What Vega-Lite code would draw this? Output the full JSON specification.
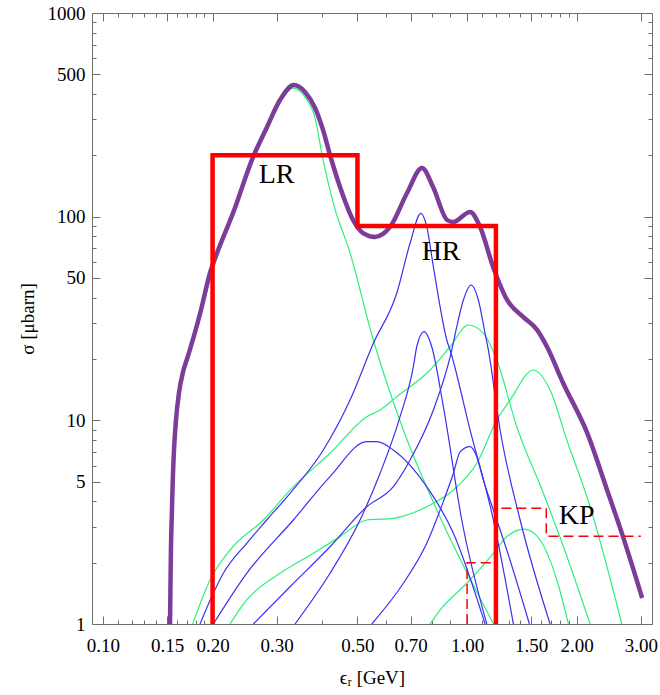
{
  "$schema": "https://vega.github.io/schema/vega-lite/v6.json",
  "width": 560,
  "height": 611,
  "autosize": {"type": "none"},
  "padding": {"left": 92, "top": 13, "right": 8, "bottom": 71},
  "background": "white",
  "config": {
    "view": {"stroke": null},
    "axis": {
      "grid": false,
      "domainColor": "#6e6e6e",
      "tickColor": "#6e6e6e",
      "labelColor": "#000000",
      "titleColor": "#000000",
      "labelFont": "Liberation Serif",
      "titleFont": "Liberation Serif",
      "labelFontSize": 19,
      "titleFontSize": 19,
      "titleFontWeight": "normal",
      "labelFlush": false,
      "labelOverlap": false,
      "labelBound": false,
      "domainWidth": 1,
      "tickWidth": 1
    }
  },
  "datasets": {
    "green": [
      {"s": "G1", "x": 0.1528, "y": 1.0}, {"s": "G1", "x": 0.1537, "y": 2.2}, {"s": "G1", "x": 0.1554, "y": 4.7}, {"s": "G1", "x": 0.1567, "y": 6.9}, {"s": "G1", "x": 0.1587, "y": 9.7}, {"s": "G1", "x": 0.1617, "y": 13.1}, {"s": "G1", "x": 0.1659, "y": 16.6}, {"s": "G1", "x": 0.1712, "y": 19.9}, {"s": "G1", "x": 0.1778, "y": 25}, {"s": "G1", "x": 0.1847, "y": 32}, {"s": "G1", "x": 0.1968, "y": 50.5}, {"s": "G1", "x": 0.2057, "y": 63.5}, {"s": "G1", "x": 0.2276, "y": 100}, {"s": "G1", "x": 0.2583, "y": 189}, {"s": "G1", "x": 0.2822, "y": 266}, {"s": "G1", "x": 0.3063, "y": 362}, {"s": "G1", "x": 0.3328, "y": 428}, {"s": "G1", "x": 0.3588, "y": 386.9}, {"s": "G1", "x": 0.3823, "y": 305}, {"s": "G1", "x": 0.4022, "y": 189.8}, {"s": "G1", "x": 0.4292, "y": 116.3}, {"s": "G1", "x": 0.4771, "y": 66.3}, {"s": "G1", "x": 0.5527, "y": 24.8}, {"s": "G1", "x": 0.6683, "y": 8.97}, {"s": "G1", "x": 0.8257, "y": 3.63}, {"s": "G1", "x": 1.183, "y": 1.0},
      {"s": "G2", "x": 0.1764, "y": 1.0}, {"s": "G2", "x": 0.1968, "y": 1.644}, {"s": "G2", "x": 0.2233, "y": 2.308}, {"s": "G2", "x": 0.2757, "y": 3.241}, {"s": "G2", "x": 0.3333, "y": 4.722}, {"s": "G2", "x": 0.4203, "y": 6.889}, {"s": "G2", "x": 0.5302, "y": 10.42}, {"s": "G2", "x": 0.5768, "y": 11.24}, {"s": "G2", "x": 0.641, "y": 13.06}, {"s": "G2", "x": 0.7914, "y": 17.67}, {"s": "G2", "x": 0.8981, "y": 22.98}, {"s": "G2", "x": 1.0083, "y": 29.38}, {"s": "G2", "x": 1.1087, "y": 26.75}, {"s": "G2", "x": 1.2067, "y": 19.79}, {"s": "G2", "x": 1.3695, "y": 9.306}, {"s": "G2", "x": 1.6205, "y": 4.382}, {"s": "G2", "x": 1.8392, "y": 2.396}, {"s": "G2", "x": 2.1774, "y": 1.0},
      {"s": "G3", "x": 0.2233, "y": 1.0}, {"s": "G3", "x": 0.2482, "y": 1.312}, {"s": "G3", "x": 0.3063, "y": 1.774}, {"s": "G3", "x": 0.3782, "y": 2.224}, {"s": "G3", "x": 0.4478, "y": 2.684}, {"s": "G3", "x": 0.5302, "y": 3.241}, {"s": "G3", "x": 0.6273, "y": 3.304}, {"s": "G3", "x": 0.7749, "y": 3.766}, {"s": "G3", "x": 0.9171, "y": 4.549}, {"s": "G3", "x": 1.0632, "y": 6.152}, {"s": "G3", "x": 1.2067, "y": 10.04}, {"s": "G3", "x": 1.3126, "y": 12.58}, {"s": "G3", "x": 1.5208, "y": 17.67}, {"s": "G3", "x": 1.6904, "y": 14.09}, {"s": "G3", "x": 1.8789, "y": 8.008}, {"s": "G3", "x": 2.1774, "y": 3.766}, {"s": "G3", "x": 2.6607, "y": 1.0},
      {"s": "G4", "x": 0.7914, "y": 1.0}, {"s": "G4", "x": 0.843, "y": 1.171}, {"s": "G4", "x": 0.998, "y": 1.585}, {"s": "G4", "x": 1.181, "y": 2.224}, {"s": "G4", "x": 1.2855, "y": 2.684}, {"s": "G4", "x": 1.4373, "y": 2.92}, {"s": "G4", "x": 1.586, "y": 2.585}, {"s": "G4", "x": 1.764, "y": 1.644}, {"s": "G4", "x": 1.898, "y": 1.0}
    ],
    "blue": [
      {"s": "B1", "x": 0.1847, "y": 1.0}, {"s": "B1", "x": 0.1989, "y": 1.361}, {"s": "B1", "x": 0.2141, "y": 1.774}, {"s": "B1", "x": 0.2482, "y": 2.49}, {"s": "B1", "x": 0.2816, "y": 3.241}, {"s": "B1", "x": 0.3264, "y": 4.382}, {"s": "B1", "x": 0.4029, "y": 7.152}, {"s": "B1", "x": 0.4771, "y": 12.58}, {"s": "B1", "x": 0.5529, "y": 23.89}, {"s": "B1", "x": 0.641, "y": 42.05}, {"s": "B1", "x": 0.6973, "y": 74}, {"s": "B1", "x": 0.7462, "y": 103.9}, {"s": "B1", "x": 0.7749, "y": 89.3}, {"s": "B1", "x": 0.808, "y": 56.8}, {"s": "B1", "x": 0.843, "y": 36.14}, {"s": "B1", "x": 0.8794, "y": 24.8}, {"s": "B1", "x": 0.8981, "y": 22.14}, {"s": "B1", "x": 1.019, "y": 8.97}, {"s": "B1", "x": 1.181, "y": 3.241}, {"s": "B1", "x": 1.3404, "y": 1.0},
      {"s": "B2", "x": 0.2588, "y": 1.0}, {"s": "B2", "x": 0.3264, "y": 1.524}, {"s": "B2", "x": 0.4203, "y": 2.396}, {"s": "B2", "x": 0.5302, "y": 3.766}, {"s": "B2", "x": 0.6273, "y": 4.722}, {"s": "B2", "x": 0.6973, "y": 6.386}, {"s": "B2", "x": 0.808, "y": 11.24}, {"s": "B2", "x": 0.9078, "y": 22.14}, {"s": "B2", "x": 0.9369, "y": 28.83}, {"s": "B2", "x": 0.9768, "y": 38.98}, {"s": "B2", "x": 1.0256, "y": 46.18}, {"s": "B2", "x": 1.074, "y": 38.98}, {"s": "B2", "x": 1.1205, "y": 26.75}, {"s": "B2", "x": 1.1442, "y": 22.14}, {"s": "B2", "x": 1.2323, "y": 8.966}, {"s": "B2", "x": 1.3987, "y": 3.241}, {"s": "B2", "x": 1.6904, "y": 1.0},
      {"s": "B3", "x": 0.3369, "y": 1.0}, {"s": "B3", "x": 0.4203, "y": 1.774}, {"s": "B3", "x": 0.5082, "y": 3.241}, {"s": "B3", "x": 0.5768, "y": 5.494}, {"s": "B3", "x": 0.6546, "y": 10.42}, {"s": "B3", "x": 0.712, "y": 18.34}, {"s": "B3", "x": 0.7274, "y": 22.98}, {"s": "B3", "x": 0.7619, "y": 27.24}, {"s": "B3", "x": 0.7998, "y": 22.98}, {"s": "B3", "x": 0.8608, "y": 11.67}, {"s": "B3", "x": 0.967, "y": 3.241}, {"s": "B3", "x": 1.1327, "y": 1.0},
      {"s": "B4", "x": 0.5473, "y": 1.0}, {"s": "B4", "x": 0.6683, "y": 1.585}, {"s": "B4", "x": 0.7749, "y": 2.49}, {"s": "B4", "x": 0.8608, "y": 4.0}, {"s": "B4", "x": 0.9171, "y": 5.494}, {"s": "B4", "x": 0.9567, "y": 7.0}, {"s": "B4", "x": 1.019, "y": 7.424}, {"s": "B4", "x": 1.0632, "y": 6.63}, {"s": "B4", "x": 1.1087, "y": 5.09}, {"s": "B4", "x": 1.181, "y": 3.628}, {"s": "B4", "x": 1.2855, "y": 2.308}, {"s": "B4", "x": 1.4832, "y": 1.0},
      {"s": "B5", "x": 0.2009, "y": 1.0}, {"s": "B5", "x": 0.2482, "y": 1.774}, {"s": "B5", "x": 0.3333, "y": 3.241}, {"s": "B5", "x": 0.4203, "y": 5.287}, {"s": "B5", "x": 0.5302, "y": 7.856}, {"s": "B5", "x": 0.5649, "y": 7.856}, {"s": "B5", "x": 0.6273, "y": 7.152}, {"s": "B5", "x": 0.7749, "y": 4.722}, {"s": "B5", "x": 0.9171, "y": 2.788}, {"s": "B5", "x": 1.1205, "y": 1.0}
    ],
    "total": [
      {"x": 0.1528, "y": 1.0}, {"x": 0.1532, "y": 1.469}, {"x": 0.1537, "y": 2.31}, {"x": 0.1547, "y": 3.63}, {"x": 0.1554, "y": 4.92}, {"x": 0.1567, "y": 7.15}, {"x": 0.1587, "y": 10.04}, {"x": 0.1617, "y": 13.62}, {"x": 0.1659, "y": 17.28}, {"x": 0.1712, "y": 20.7}, {"x": 0.1778, "y": 25.95}, {"x": 0.1847, "y": 33.3}, {"x": 0.1968, "y": 52.9}, {"x": 0.2057, "y": 66.3}, {"x": 0.2276, "y": 104.2}, {"x": 0.2583, "y": 196}, {"x": 0.2822, "y": 275.6}, {"x": 0.3063, "y": 374}, {"x": 0.3347, "y": 443}, {"x": 0.3588, "y": 409.5}, {"x": 0.3823, "y": 341.7}, {"x": 0.4022, "y": 266.4}, {"x": 0.4203, "y": 200.8}, {"x": 0.4478, "y": 139.8}, {"x": 0.4861, "y": 96.3}, {"x": 0.5179, "y": 83.1}, {"x": 0.5589, "y": 79.5}, {"x": 0.6144, "y": 89.0}, {"x": 0.6841, "y": 130.7}, {"x": 0.7521, "y": 173.3}, {"x": 0.8064, "y": 139.8}, {"x": 0.8813, "y": 96.3}, {"x": 0.9153, "y": 94.1}, {"x": 1.019, "y": 105.4}, {"x": 1.086, "y": 89.0}, {"x": 1.179, "y": 56.6}, {"x": 1.288, "y": 39.0}, {"x": 1.425, "y": 32.2}, {"x": 1.557, "y": 27.8}, {"x": 1.659, "y": 22.9}, {"x": 1.835, "y": 15.25}, {"x": 2.137, "y": 8.67}, {"x": 2.424, "y": 4.55}, {"x": 2.683, "y": 2.67}, {"x": 3.026, "y": 1.342}
    ],
    "box": [
      {"o": 0, "x": 0.2, "y": 1}, {"o": 1, "x": 0.2, "y": 200}, {"o": 2, "x": 0.5, "y": 200}, {"o": 3, "x": 0.5, "y": 90}, {"o": 4, "x": 1.2, "y": 90}, {"o": 5, "x": 1.2, "y": 1}
    ],
    "kp": [
      {"o": 0, "x": 1.0, "y": 1}, {"o": 1, "x": 1.0, "y": 2.0}, {"o": 2, "x": 1.2, "y": 2.0}, {"o": 3, "x": 1.2, "y": 3.7}, {"o": 4, "x": 1.65, "y": 3.7}, {"o": 5, "x": 1.65, "y": 2.7}, {"o": 6, "x": 3.0, "y": 2.7}
    ],
    "labels": [
      {"x": 0.2997, "y": 146, "t": "LR"}, {"x": 0.8484, "y": 61.2, "t": "HR"}, {"x": 2.0, "y": 3.09, "t": "KP"}
    ]
  },
  "resolve": {"axis": {"x": "independent", "y": "independent"}},
  "layer": [
    {
      "data": {"name": "green"},
      "mark": {"type": "line", "color": "#2cf07e", "strokeWidth": 1.2, "interpolate": "monotone", "clip": true},
      "encoding": {
        "x": {"field": "x", "type": "quantitative", "scale": {"type": "log", "domain": [0.0933, 3.22], "nice": false},
          "axis": {"orient": "bottom", "values": [0.1, 0.15, 0.2, 0.3, 0.5, 0.7, 1, 1.5, 2, 3], "format": ".2f", "tickSize": -8, "labelPadding": 20, "title": "ϵᵣ [GeV]", "titlePadding": 13}},
        "y": {"field": "y", "type": "quantitative", "scale": {"type": "log", "domain": [1, 1000], "nice": false},
          "axis": {"orient": "left", "values": [1, 5, 10, 50, 100, 500, 1000], "format": "d", "tickSize": -8, "labelPadding": 15, "title": "σ [μbarn]", "titlePadding": 10}},
        "detail": {"field": "s"}
      }
    },
    {
      "data": {"name": "blue"},
      "mark": {"type": "line", "color": "#3b30f0", "strokeWidth": 1.2, "interpolate": "monotone", "clip": true},
      "encoding": {
        "x": {"field": "x", "type": "quantitative", "scale": {"type": "log", "domain": [0.0933, 3.22], "nice": false},
          "axis": {"orient": "bottom", "values": [0.11, 0.12, 0.13, 0.14, 0.16, 0.17, 0.18, 0.19, 0.4, 0.6, 0.8, 0.9, 1.1, 1.2, 1.3, 1.4, 1.6, 1.7, 1.8, 1.9], "labels": false, "domain": false, "tickSize": -4, "title": null}},
        "y": {"field": "y", "type": "quantitative", "scale": {"type": "log", "domain": [1, 1000], "nice": false},
          "axis": {"orient": "left", "values": [2, 3, 4, 6, 7, 8, 9, 20, 30, 40, 60, 70, 80, 90, 200, 300, 400, 600, 700, 800, 900], "labels": false, "domain": false, "tickSize": -4, "title": null}},
        "detail": {"field": "s"}
      }
    },
    {
      "data": {"name": "total"},
      "mark": {"type": "line", "color": "#7d3c98", "strokeWidth": 4.5, "interpolate": "monotone", "clip": true},
      "encoding": {
        "x": {"field": "x", "type": "quantitative", "scale": {"type": "log", "domain": [0.0933, 3.22], "nice": false},
          "axis": {"orient": "top", "values": [0.1, 0.15, 0.2, 0.3, 0.5, 0.7, 1, 1.5, 2, 3], "labels": false, "tickSize": -8, "title": null}},
        "y": {"field": "y", "type": "quantitative", "scale": {"type": "log", "domain": [1, 1000], "nice": false},
          "axis": {"orient": "right", "values": [1, 5, 10, 50, 100, 500, 1000], "labels": false, "tickSize": -8, "title": null}}
      }
    },
    {
      "data": {"name": "box"},
      "mark": {"type": "line", "color": "#ff0000", "strokeWidth": 4.5, "strokeJoin": "miter", "clip": true},
      "encoding": {
        "x": {"field": "x", "type": "quantitative", "scale": {"type": "log", "domain": [0.0933, 3.22], "nice": false},
          "axis": {"orient": "top", "values": [0.11, 0.12, 0.13, 0.14, 0.16, 0.17, 0.18, 0.19, 0.4, 0.6, 0.8, 0.9, 1.1, 1.2, 1.3, 1.4, 1.6, 1.7, 1.8, 1.9], "labels": false, "domain": false, "tickSize": -4, "title": null}},
        "y": {"field": "y", "type": "quantitative", "scale": {"type": "log", "domain": [1, 1000], "nice": false},
          "axis": {"orient": "right", "values": [2, 3, 4, 6, 7, 8, 9, 20, 30, 40, 60, 70, 80, 90, 200, 300, 400, 600, 700, 800, 900], "labels": false, "domain": false, "tickSize": -4, "title": null}},
        "order": {"field": "o", "type": "quantitative"}
      }
    },
    {
      "data": {"name": "kp"},
      "mark": {"type": "line", "color": "#ff0000", "strokeWidth": 1.5, "strokeDash": [10, 5], "clip": true},
      "encoding": {
        "x": {"field": "x", "type": "quantitative", "scale": {"type": "log", "domain": [0.0933, 3.22], "nice": false}, "axis": null},
        "y": {"field": "y", "type": "quantitative", "scale": {"type": "log", "domain": [1, 1000], "nice": false}, "axis": null},
        "order": {"field": "o", "type": "quantitative"}
      }
    },
    {
      "data": {"name": "labels"},
      "mark": {"type": "text", "font": "Liberation Serif", "fontSize": 28, "align": "center", "baseline": "alphabetic", "color": "#000000"},
      "encoding": {
        "x": {"field": "x", "type": "quantitative", "scale": {"type": "log", "domain": [0.0933, 3.22], "nice": false}, "axis": null},
        "y": {"field": "y", "type": "quantitative", "scale": {"type": "log", "domain": [1, 1000], "nice": false}, "axis": null},
        "text": {"field": "t"}
      }
    }
  ]
}
